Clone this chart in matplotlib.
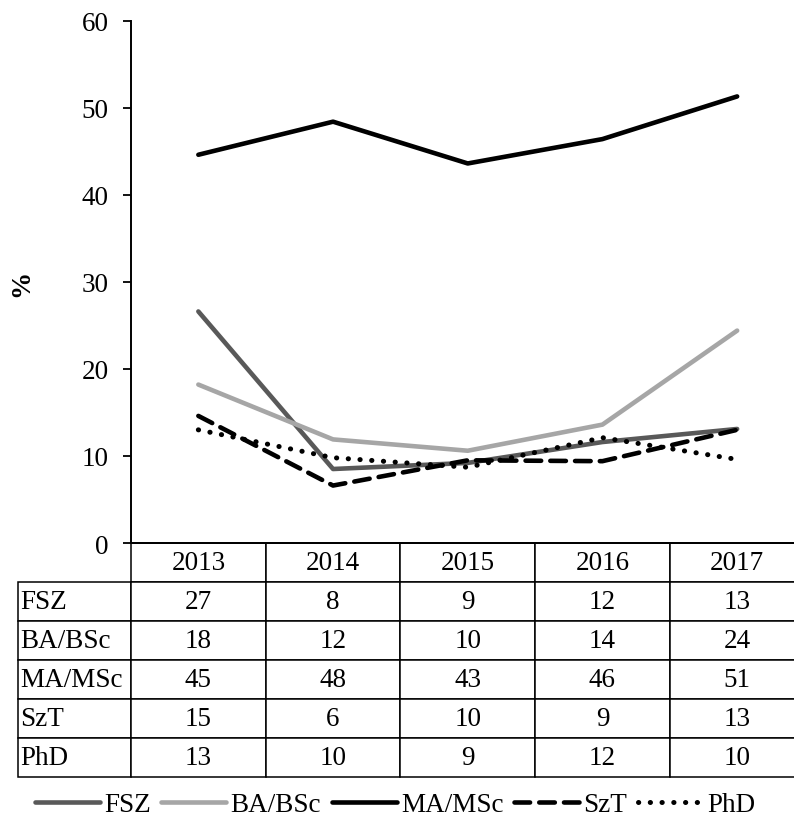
import matplotlib
matplotlib.use("Agg")
import matplotlib.pyplot as plt

plt.rcParams['font.family'] = ['Liberation Serif', 'DejaVu Serif']

years = ['2013', '2014', '2015', '2016', '2017']
series_names = ['FSZ', 'BA/BSc', 'MA/MSc', 'SzT', 'PhD']
fsz = [26.6, 8.5, 9.2, 11.6, 13.1]
ba_bsc = [18.2, 11.9, 10.6, 13.6, 24.4]
ma_msc = [44.6, 48.4, 43.6, 46.4, 51.3]
szt = [14.6, 6.6, 9.5, 9.4, 13.0]
phd = [13.0, 9.8, 8.7, 12.1, 9.6]
table_text = [
    ['27', '8', '9', '12', '13'],
    ['18', '12', '10', '14', '24'],
    ['45', '48', '43', '46', '51'],
    ['15', '6', '10', '9', '13'],
    ['13', '10', '9', '12', '10'],
]

FS = 19.5
W, H = 794, 820
fig = plt.figure(figsize=(W / 100, H / 100), dpi=100)
AX_L, AX_R, AX_T, AX_B = 131, 804.5, 21.7, 544
ax = fig.add_axes([AX_L / W, 1 - AX_B / H, (AX_R - AX_L) / W, (AX_B - AX_T) / H])

x = list(range(len(years)))
lw = 3.3
ax.plot(x, fsz, color='#595959', lw=lw, label='FSZ', solid_capstyle='round')
ax.plot(x, ba_bsc, color='#a6a6a6', lw=lw, label='BA/BSc', solid_capstyle='round')
ax.plot(x, ma_msc, color='black', lw=lw, label='MA/MSc', solid_capstyle='round')
ax.plot(x, szt, color='black', lw=lw, label='SzT', linestyle=(0, (3.4, 2.0)),
        dash_capstyle='round')
ax.plot(x, phd, color='black', lw=3.6, label='PhD', linestyle=(0, (0.05, 2.3)),
        dash_capstyle='round')

ax.set_xlim(-0.5, 4.5)
ax.set_ylim(0, 60)
ax.set_yticks([0, 10, 20, 30, 40, 50, 60])
ax.set_xticks([])
for s in ['top', 'right']:
    ax.spines[s].set_visible(False)
ax.spines['left'].set_linewidth(1.4)
ax.spines['bottom'].set_linewidth(1.4)
ax.tick_params(axis='y', direction='out', length=6, width=1.3, labelsize=FS, pad=10)

fig.text(22 / W, 1 - 283 / H, '%', rotation=90, fontsize=FS, fontweight='bold',
         ha='center', va='center')

# table: first column holds the row labels
cell_rows = [[name] + row for name, row in zip(series_names, table_text)]
col_labels = [''] + years
lab_w, col_w = 113.0, (AX_R - AX_L) / 5
ax_w, ax_h = AX_R - AX_L, AX_B - AX_T
TAB_L, TAB_B = 18, 778
tab = ax.table(cellText=cell_rows, colLabels=col_labels, cellLoc='center',
               colWidths=[lab_w] + [col_w] * 5,
               bbox=[(TAB_L - AX_L) / ax_w, -(TAB_B - AX_B) / ax_h,
                     (AX_R - TAB_L) / ax_w, (TAB_B - AX_B) / ax_h])
tab.auto_set_font_size(False)
tab.set_fontsize(FS)
for (r, c), cell in tab.get_celld().items():
    cell.set_linewidth(1.1)
    if c == 0:
        if r == 0:
            cell.visible_edges = ''
        else:
            cell.PAD = 0.02
            cell._loc = 'left'
            cell.get_text().set_ha('left')

handles, labels = ax.get_legend_handles_labels()
fig.legend(handles, labels, loc='center', bbox_to_anchor=(395 / W, 1 - 806 / H),
           ncol=5, frameon=False, fontsize=FS, handlelength=2.4,
           handletextpad=0.15, columnspacing=0.4, borderaxespad=0)

fig.savefig('out.png', dpi=100)
